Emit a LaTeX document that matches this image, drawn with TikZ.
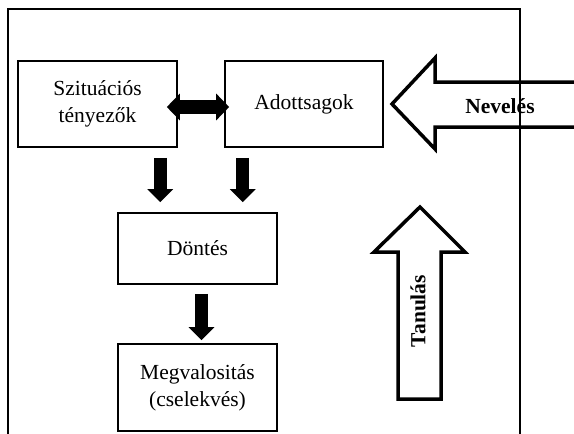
\documentclass[tikz,border=0pt]{standalone}
\usepackage{fontspec}
\setmainfont{Liberation Serif}
\usetikzlibrary{arrows.meta}
\begin{document}
\begin{tikzpicture}[x=1pt,y=-1pt,
  box/.style={draw,line width=1.6pt,inner sep=0pt,align=center,
    font=\fontsize{21.5}{27}\selectfont},
  blk/.style={line width=13.5pt,-{Triangle[length=13pt,width=25pt]}},
  blk2/.style={line width=13.5pt,{Triangle[length=13pt,width=26pt]}-{Triangle[length=13pt,width=26pt]}},
  hollow/.style={draw,fill=white,line width=3.5pt,line join=miter},
  lbl/.style={font=\fontsize{21.5}{27}\selectfont\bfseries,inner sep=0pt},
  frame/.style={line width=1.5pt}]
\useasboundingbox (0,0) rectangle (574,434);
\clip (0,0) rectangle (574,434);
\fill[white] (0,0) rectangle (574,434);
% boxes
\node[box,minimum width=159pt,minimum height=86pt] (s) at (97.5,104) {Szituációs\\tényezők};
\node[box,minimum width=158pt,minimum height=86pt] (a) at (304,104) {Adottsagok};
\node[box,minimum width=159pt,minimum height=71pt] (d) at (197.5,248.5) {Döntés};
\node[box,minimum width=159pt,minimum height=87pt] (m) at (197.5,387.5) {Megvalositás\\(cselekvés)};
% black arrows
\draw[blk2] ([xshift=-11pt,yshift=-3pt]s.east) -- ([xshift=5pt,yshift=-3pt]a.west);
\draw[blk,shorten >=10pt] ([xshift=-17.5pt,yshift=-10pt]s.south east) -- ([xshift=-17.5pt]s.south east |- d.north);
\draw[blk,shorten >=10pt] ([xshift=18.5pt,yshift=-10pt]a.south west) -- ([xshift=18.5pt]a.south west |- d.north);
\draw[blk,shorten >=3pt] ([xshift=4pt,yshift=-9pt]d.south) -- ([xshift=4pt]m.north);
% Neveles arrow
\path[hollow] (590,82) -- (435,82) -- (435,58) -- (392,104) -- (435,149) -- (435,127) -- (590,127);
\node[lbl] (nev) at (500,106) {Nevelés};
% Tanulas arrow
\path[hollow] (398,399) -- (398,252) -- (374,252) -- (420,207) -- (465,252) -- (441,252) -- (441,399) -- cycle;
\node[lbl,rotate=90] (tan) at (418,311) {Tanulás};
% frame
\draw[frame] (8,450) -- (8,9) -- (520,9) -- (520,450);
\end{tikzpicture}
\end{document}
